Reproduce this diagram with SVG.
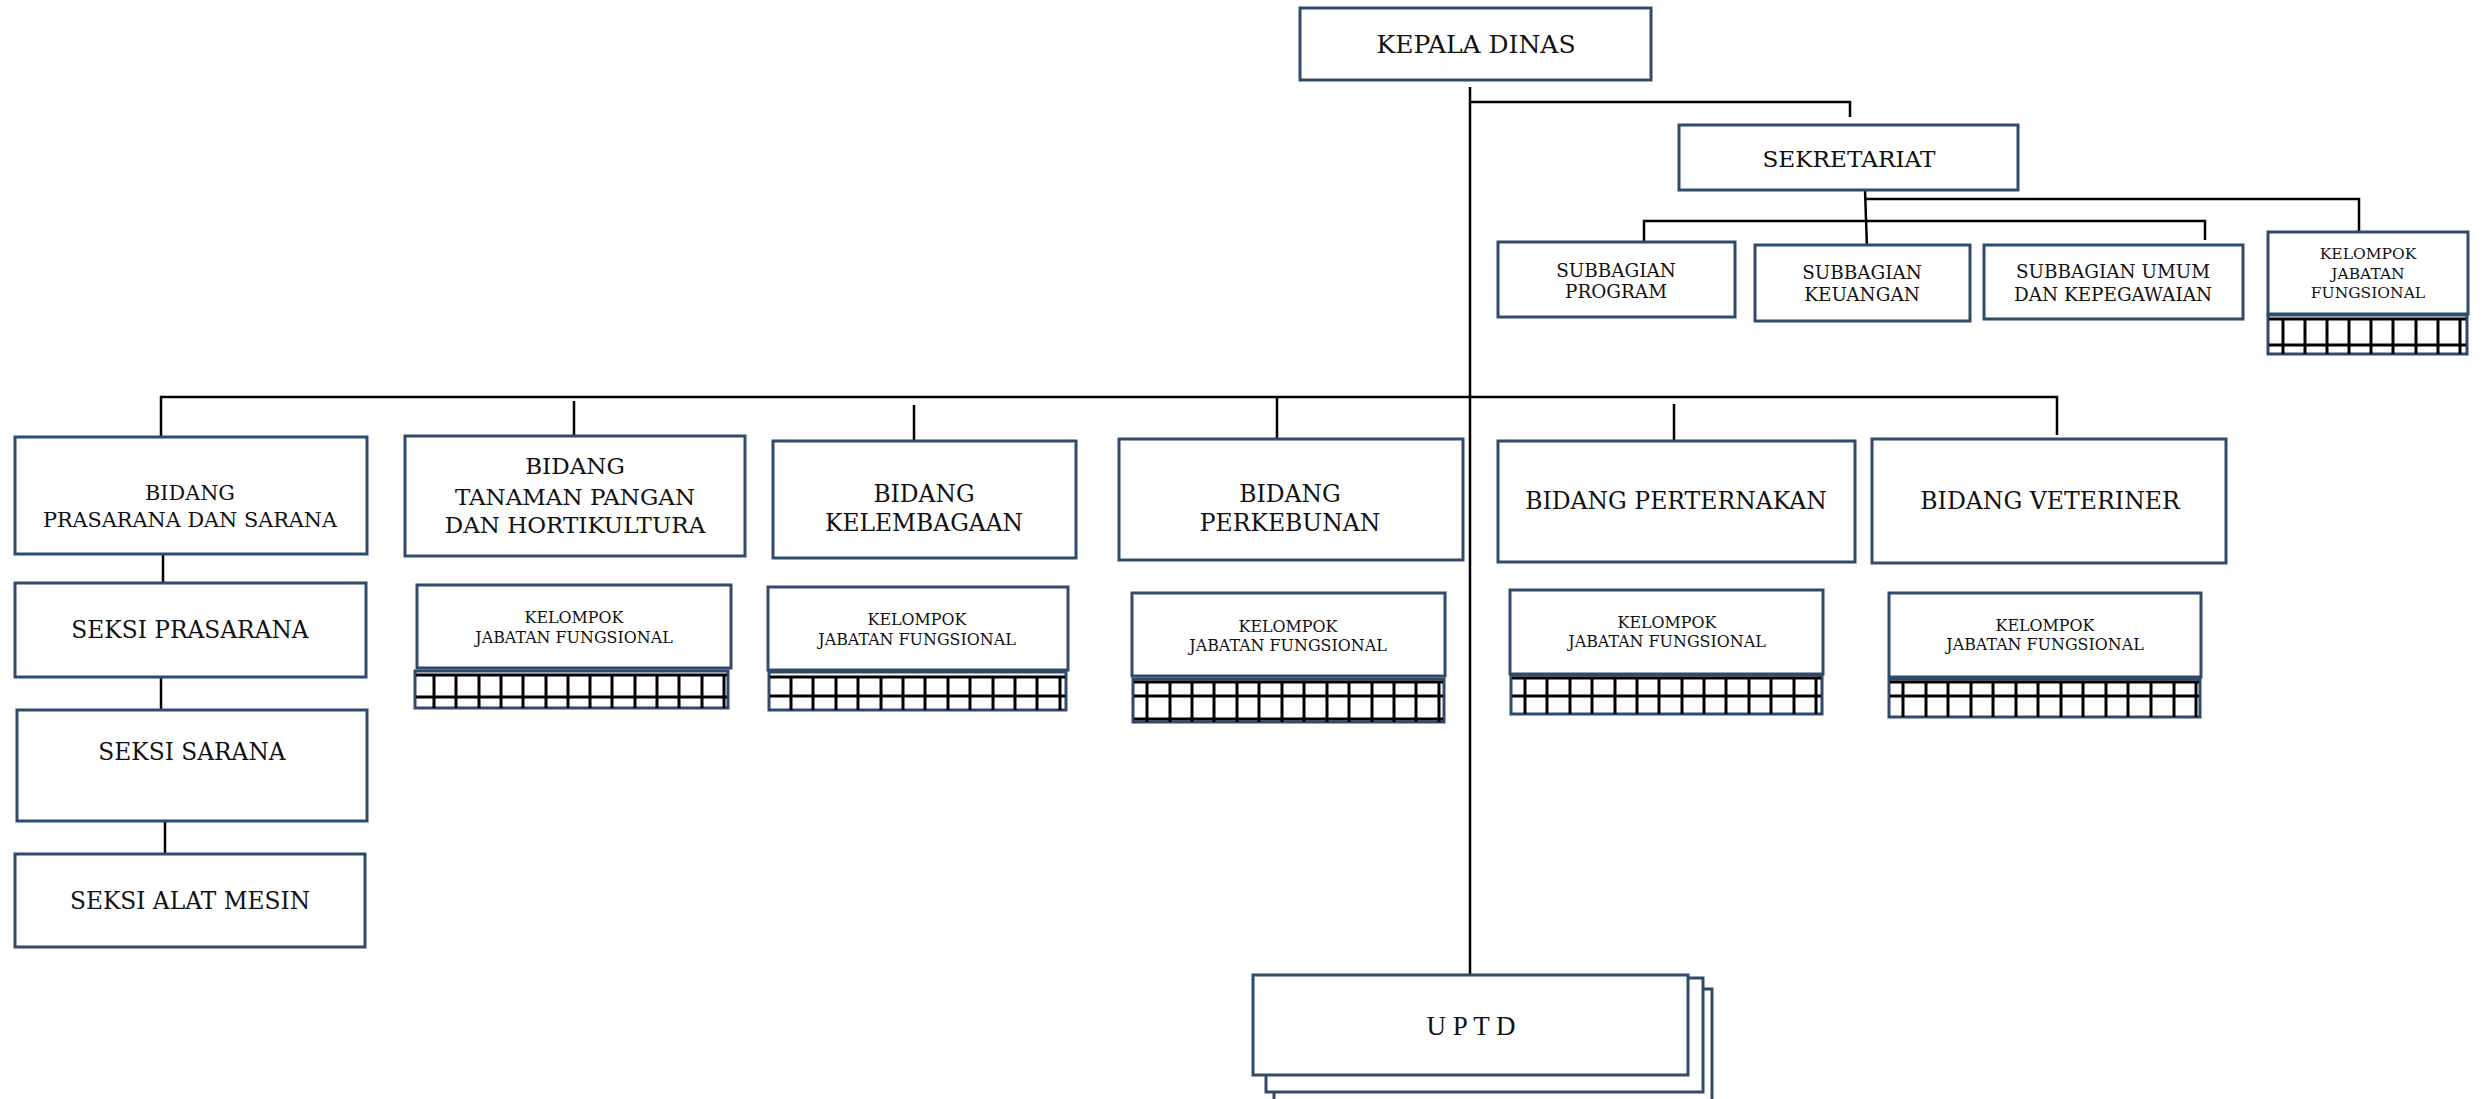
<svg xmlns="http://www.w3.org/2000/svg" width="2481" height="1099" viewBox="0 0 2481 1099">
<style>
.box{fill:#fff;stroke:#2F4A6B;stroke-width:3}
.ln{fill:none;stroke:#000;stroke-width:2.5}
.gl{fill:none;stroke:#000;stroke-width:3}
.t{font-family:"DejaVu Serif","Liberation Serif",serif;fill:#111;text-anchor:middle}
.u{font-family:"Liberation Serif",serif;fill:#111;text-anchor:middle}
</style>
<rect width="2481" height="1099" fill="#fff"/>
<g id="connectors">
<path class="ln" d="M1470 87V975"/>
<path class="ln" d="M1470 102H1850V117"/>
<path class="ln" d="M1865 190L1867 248"/>
<path class="ln" d="M1866 199H2359V231"/>
<path class="ln" d="M1644 241V221H2205V240"/>
<path class="ln" d="M161 437V397H2057V435"/>
<path class="ln" d="M574 401V436"/>
<path class="ln" d="M914 405V441"/>
<path class="ln" d="M1277 397V439"/>
<path class="ln" d="M1674 404V441"/>
<path class="ln" d="M163 554V584"/>
<path class="ln" d="M161 677V710"/>
<path class="ln" d="M165 821V855"/>
</g>
<g id="kepala-dinas"><rect class="box" x="1300" y="8" width="351" height="72"/><text class="t" x="1476" y="53" font-size="25">KEPALA DINAS</text></g>
<g id="sekretariat"><rect class="box" x="1679" y="125" width="339" height="65"/><text class="t" x="1849" y="167" font-size="23.2">SEKRETARIAT</text></g>
<g id="subbag-program"><rect class="box" x="1498" y="242" width="237" height="75"/><text class="t" x="1616" y="277" font-size="18.4">SUBBAGIAN</text><text class="t" x="1616" y="298" font-size="18.4">PROGRAM</text></g>
<g id="subbag-keuangan"><rect class="box" x="1755" y="245" width="215" height="76"/><text class="t" x="1862" y="279" font-size="18.4">SUBBAGIAN</text><text class="t" x="1862" y="301" font-size="18.4">KEUANGAN</text></g>
<g id="subbag-umum"><rect class="box" x="1984" y="245" width="259" height="74"/><text class="t" x="2113" y="278" font-size="18.4">SUBBAGIAN UMUM</text><text class="t" x="2113" y="301" font-size="18.4">DAN KEPEGAWAIAN</text></g>
<g id="kjf-sekretariat"><rect class="box" x="2268" y="232" width="200" height="82"/><text class="t" x="2368" y="259" font-size="15.5">KELOMPOK</text><text class="t" x="2368" y="279" font-size="15.5">JABATAN</text><text class="t" x="2368" y="298" font-size="15.5">FUNGSIONAL</text>
<rect class="box" x="2268" y="315" width="199" height="39"/><path class="gl" d="M2269 319H2466M2269 345H2466M2283 319V354M2305 319V354M2327 319V354M2349 319V354M2371 319V354M2393 319V354M2416 319V354M2438 319V354M2460 319V354"/></g>
<g id="bidang-prasarana"><rect class="box" x="15" y="437" width="352" height="117"/><text class="t" x="190" y="500" font-size="20.8">BIDANG</text><text class="t" x="190" y="527" font-size="20.8">PRASARANA DAN SARANA</text></g>
<g id="seksi-prasarana"><rect class="box" x="15" y="583" width="351" height="94"/><text class="t" x="190" y="638" font-size="23.3">SEKSI PRASARANA</text></g>
<g id="seksi-sarana"><rect class="box" x="17" y="710" width="350" height="111"/><text class="t" x="192" y="760" font-size="23.3">SEKSI SARANA</text></g>
<g id="seksi-alat-mesin"><rect class="box" x="15" y="854" width="350" height="93"/><text class="t" x="190" y="909" font-size="23.3">SEKSI ALAT MESIN</text></g>
<g id="bidang-tanaman"><rect class="box" x="405" y="436" width="340" height="120"/><text class="t" x="575" y="474" font-size="23">BIDANG</text><text class="t" x="575" y="505" font-size="23">TANAMAN PANGAN</text><text class="t" x="575" y="533" font-size="23">DAN HORTIKULTURA</text></g>
<g id="kjf-tanaman"><rect class="box" x="417" y="585" width="314" height="83"/><text class="t" x="574" y="623" font-size="15.9">KELOMPOK</text><text class="t" x="574" y="643" font-size="15.9">JABATAN FUNGSIONAL</text>
<rect class="box" x="415" y="671" width="313" height="37"/><path class="gl" d="M416 675H727M416 697H727M434 675V708M456 675V708M479 675V708M501 675V708M523 675V708M546 675V708M568 675V708M590 675V708M612 675V708M635 675V708M657 675V708M679 675V708M702 675V708M724 675V708"/></g>
<g id="bidang-kelembagaan"><rect class="box" x="773" y="441" width="303" height="117"/><text class="t" x="924" y="502" font-size="23.4">BIDANG</text><text class="t" x="924" y="531" font-size="23.4">KELEMBAGAAN</text></g>
<g id="kjf-kelembagaan"><rect class="box" x="768" y="587" width="300" height="83"/><text class="t" x="917" y="625" font-size="15.9">KELOMPOK</text><text class="t" x="917" y="645" font-size="15.9">JABATAN FUNGSIONAL</text>
<rect class="box" x="769" y="672" width="297" height="38"/><path class="gl" d="M770 677H1065M770 696H1065M791 677V710M813 677V710M836 677V710M858 677V710M881 677V710M903 677V710M925 677V710M948 677V710M970 677V710M993 677V710M1015 677V710M1037 677V710M1060 677V710"/></g>
<g id="bidang-perkebunan"><rect class="box" x="1119" y="439" width="344" height="121"/><text class="t" x="1290" y="502" font-size="23.5">BIDANG</text><text class="t" x="1290" y="531" font-size="23.5">PERKEBUNAN</text></g>
<g id="kjf-perkebunan"><rect class="box" x="1132" y="593" width="313" height="83"/><text class="t" x="1288" y="632" font-size="15.9">KELOMPOK</text><text class="t" x="1288" y="651" font-size="15.9">JABATAN FUNGSIONAL</text>
<rect class="box" x="1133" y="679" width="311" height="43"/><path class="gl" d="M1134 682H1443M1134 696H1443M1134 719H1443M1147 682V722M1170 682V722M1192 682V722M1214 682V722M1237 682V722M1259 682V722M1282 682V722M1304 682V722M1327 682V722M1349 682V722M1372 682V722M1394 682V722M1416 682V722M1439 682V722"/></g>
<g id="bidang-perternakan"><rect class="box" x="1498" y="441" width="357" height="121"/><text class="t" x="1676" y="509" font-size="23.5">BIDANG PERTERNAKAN</text></g>
<g id="kjf-perternakan"><rect class="box" x="1510" y="590" width="313" height="84"/><text class="t" x="1667" y="628" font-size="15.9">KELOMPOK</text><text class="t" x="1667" y="647" font-size="15.9">JABATAN FUNGSIONAL</text>
<rect class="box" x="1511" y="675" width="311" height="39"/><path class="gl" d="M1512 678H1821M1512 696H1821M1525 678V714M1547 678V714M1570 678V714M1592 678V714M1615 678V714M1637 678V714M1659 678V714M1682 678V714M1704 678V714M1726 678V714M1749 678V714M1771 678V714M1794 678V714M1816 678V714"/></g>
<g id="bidang-veteriner"><rect class="box" x="1872" y="439" width="354" height="124"/><text class="t" x="2050" y="509" font-size="23.6">BIDANG VETERINER</text></g>
<g id="kjf-veteriner"><rect class="box" x="1889" y="593" width="312" height="84"/><text class="t" x="2045" y="631" font-size="15.9">KELOMPOK</text><text class="t" x="2045" y="650" font-size="15.9">JABATAN FUNGSIONAL</text>
<rect class="box" x="1889" y="679" width="311" height="38"/><path class="gl" d="M1890 682H2199M1890 696H2199M1903 682V717M1926 682V717M1948 682V717M1971 682V717M1993 682V717M2016 682V717M2038 682V717M2061 682V717M2083 682V717M2106 682V717M2128 682V717M2151 682V717M2174 682V717M2196 682V717"/></g>
<g id="uptd"><rect class="box" x="1274" y="989" width="438" height="130"/><rect class="box" x="1266" y="978" width="437" height="114"/><rect class="box" x="1253" y="975" width="435" height="100"/><text class="u" x="1471" y="1035" font-size="27">U P T D</text></g>
</svg>
